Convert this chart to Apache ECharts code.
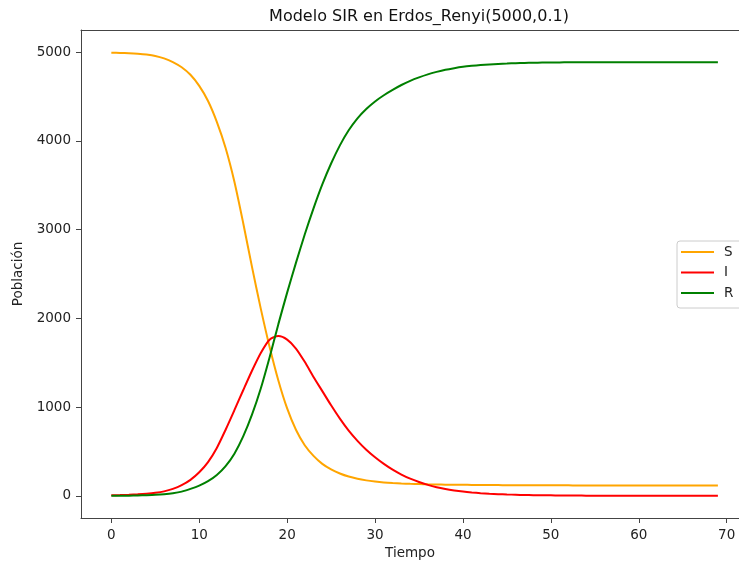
<!DOCTYPE html>
<html>
<head>
<meta charset="utf-8">
<title>Modelo SIR</title>
<script src="https://cdn.jsdelivr.net/npm/echarts@6/dist/echarts.min.js"></script>
<style>
  html, body { margin: 0; padding: 0; background: #fff; }
  #chart { width: 739px; height: 562px; }
</style>
</head>
<body>
<div id="chart"></div>
<script>
// Time steps of the simulation
const tiempo = Array.from({ length: 70 }, (_, i) => i);

// Susceptibles
const susceptibles = [
  4995, 4992, 4988, 4982, 4973, 4958, 4930, 4888, 4830, 4745,
  4620, 4450, 4215, 3920, 3540, 3075, 2580, 2110, 1680, 1300,
  985, 745, 570, 450, 360, 298, 252, 217, 192, 174,
  161, 151, 144, 139, 135, 132, 129, 127, 126, 125,
  124, 123, 122, 121, 121, 120, 120, 119, 119, 119,
  118, 118, 118, 117, 117, 117, 117, 116, 116, 116,
  116, 116, 115, 115, 115, 115, 115, 115, 115, 115
];

// Infectados
const infectados = [
  5, 8, 12, 17, 24, 34, 50, 78, 120, 180,
  265, 380, 540, 745, 965, 1190, 1410, 1610, 1760, 1800,
  1760, 1660, 1510, 1340, 1180, 1020, 870, 735, 620, 520,
  435, 360, 295, 240, 193, 155, 123, 97, 77, 61,
  48, 38, 30, 24, 19, 15, 12, 9, 7, 6,
  5, 4, 3, 3, 2, 2, 1, 1, 1, 1,
  1, 0, 0, 0, 0, 0, 0, 0, 0, 0
];

// Recuperados
const recuperados = [
  0, 1, 2, 4, 7, 11, 18, 29, 47, 78,
  115, 165, 235, 335, 475, 670, 915, 1210, 1560, 1935,
  2290, 2625, 2945, 3240, 3510, 3745, 3950, 4120, 4255, 4360,
  4445, 4515, 4575, 4630, 4677, 4716, 4750, 4778, 4802, 4820,
  4835, 4846, 4855, 4862, 4868, 4872, 4876, 4879, 4881, 4883,
  4884, 4885, 4886, 4886, 4887, 4887, 4887, 4887, 4887, 4887,
  4887, 4887, 4887, 4887, 4887, 4887, 4887, 4887, 4887, 4887
];

const xTicks = [0, 10, 20, 30, 40, 50, 60, 70];
const yTicks = [0, 1000, 2000, 3000, 4000, 5000];

const FONT = 'DejaVu Sans';
const pairs = (ys) => tiempo.map((t, i) => [t, ys[i]]);

const lineSeries = (name, data, color) => ({
  name,
  type: 'line',
  data: pairs(data),
  showSymbol: false,
  symbol: 'none',
  smooth: 0.25,
  lineStyle: { color, width: 2 },
  itemStyle: { color },
  emphasis: { disabled: true },
  z: 3
});

const chart = echarts.init(document.getElementById('chart'), null, { renderer: 'canvas' });

// The plot frame runs past the right edge of the canvas, so the x range
// is cut where the canvas ends.
chart.setOption({
  animation: false,
  backgroundColor: '#ffffff',
  title: {
    text: 'Modelo SIR en Erdos_Renyi(5000,0.1)',
    left: 414,
    textAlign: 'center',
    top: 4,
    textStyle: { fontFamily: FONT, fontSize: 16, fontWeight: 'normal', color: '#111' }
  },
  grid: { left: 81, top: 30, right: 0, bottom: 44, containLabel: false, outerBoundsMode: 'none' },
  xAxis: [
    {
      type: 'value',
      min: -3.45,
      max: 71.4,
      name: 'Tiempo',
      nameLocation: 'middle',
      nameGap: 27,
      nameTextStyle: { fontFamily: FONT, fontSize: 13.5, color: '#222' },
      axisLine: { show: true, onZero: false, lineStyle: { color: '#444', width: 1 } },
      axisTick: { show: true, inside: false, length: 5, lineStyle: { color: '#444' }, customValues: xTicks },
      axisLabel: { fontFamily: FONT, fontSize: 13.5, color: '#222', margin: 10, customValues: xTicks },
      splitLine: { show: false }
    },
    {
      type: 'value',
      position: 'top',
      min: -3.45,
      max: 71.4,
      axisLine: { show: true, onZero: false, lineStyle: { color: '#444', width: 1 } },
      axisTick: { show: false },
      axisLabel: { show: false },
      splitLine: { show: false }
    }
  ],
  yAxis: {
    type: 'value',
    min: -250,
    max: 5250,
    name: 'Población',
    nameLocation: 'middle',
    nameGap: 56,
    nameTextStyle: { fontFamily: FONT, fontSize: 13.5, color: '#222' },
    axisLine: { show: true, onZero: false, lineStyle: { color: '#444', width: 1 } },
    axisTick: { show: true, inside: false, length: 5, lineStyle: { color: '#444' }, customValues: yTicks },
    axisLabel: {
      fontFamily: FONT, fontSize: 13.5, color: '#222', margin: 10,
      customValues: yTicks,
      formatter: (v) => String(v)
    },
    splitLine: { show: false }
  },
  legend: {
    orient: 'vertical',
    left: 677,
    top: 241,
    icon: 'rect',
    itemWidth: 33,
    itemHeight: 2,
    itemGap: 6.5,
    padding: [4, 24, 8, 4],
    backgroundColor: 'rgba(255,255,255,0.8)',
    borderColor: '#cccccc',
    borderWidth: 1,
    borderRadius: 3,
    selectedMode: false,
    textStyle: { fontFamily: FONT, fontSize: 13.5, color: '#222', padding: [0, 0, 0, 5] },
    data: ['S', 'I', 'R']
  },
  series: [
    lineSeries('S', susceptibles, '#ffa500'),
    lineSeries('I', infectados, '#ff0000'),
    lineSeries('R', recuperados, '#008000')
  ]
});
</script>
</body>
</html>
